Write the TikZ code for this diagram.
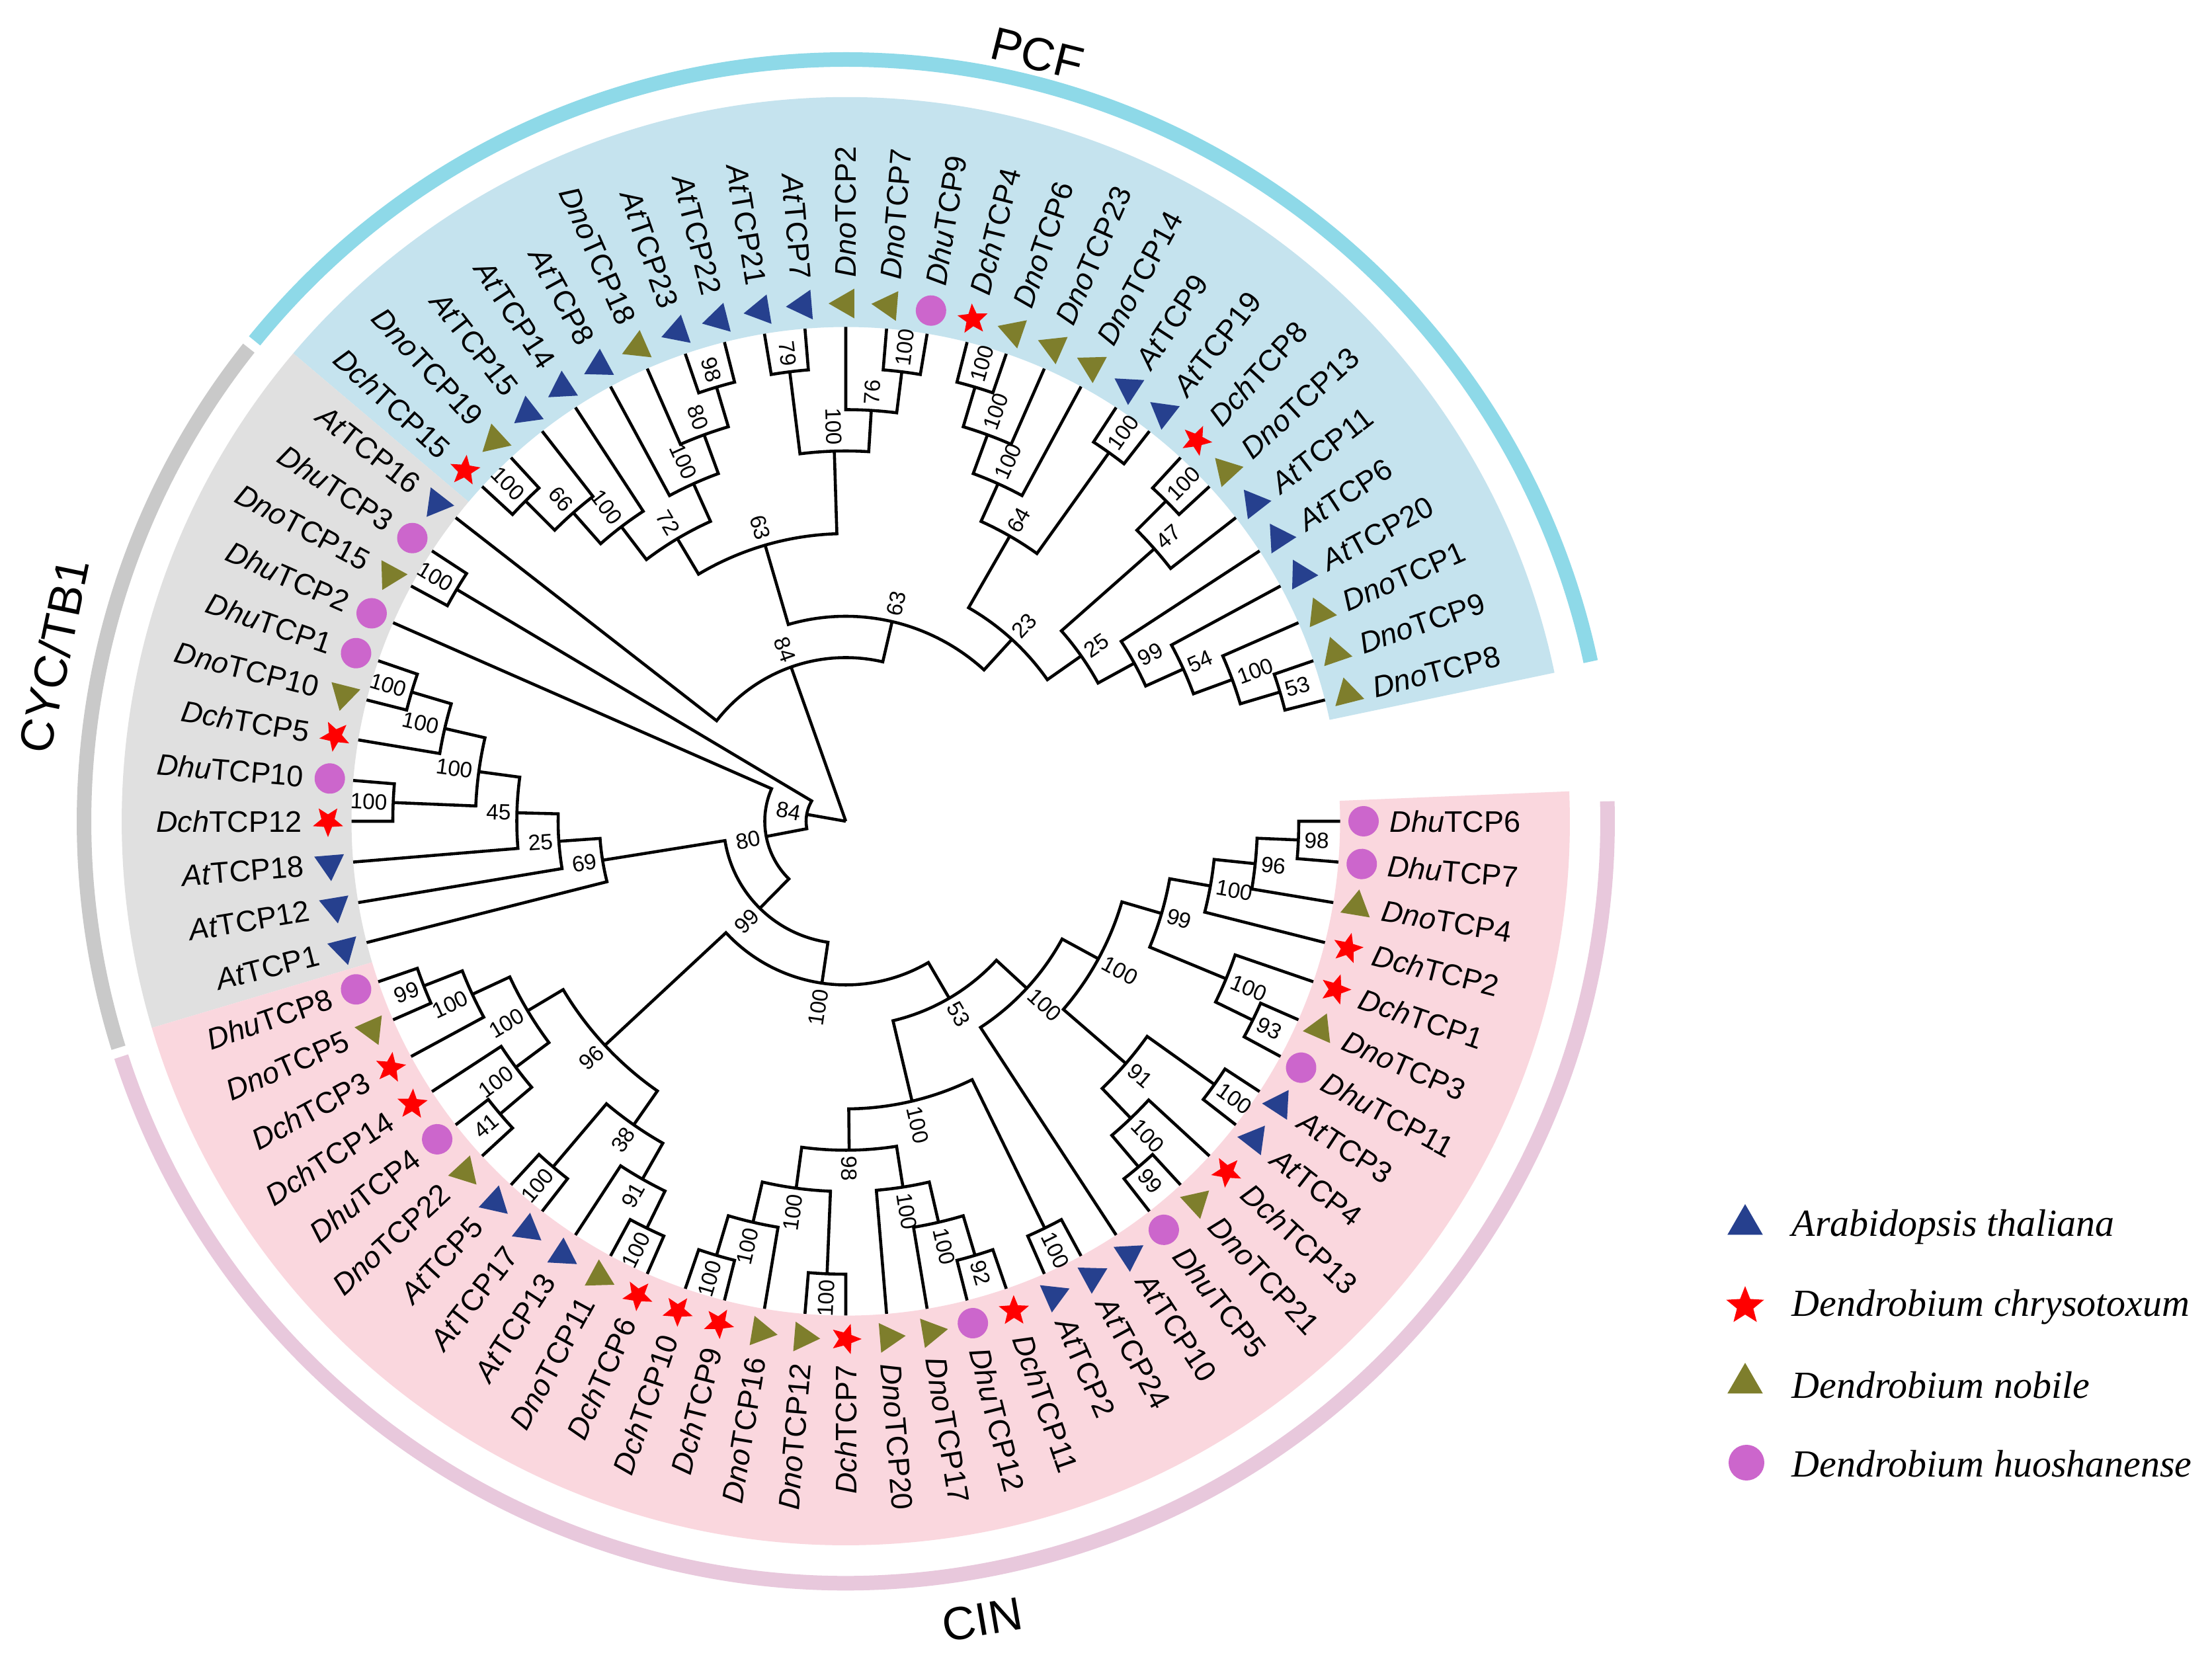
\documentclass[tikz,border=0pt]{standalone}
\usepackage{fontspec}
\setmainfont{Liberation Sans}
\newfontfamily\legendfont{Liberation Serif}
\usetikzlibrary{shapes.geometric,positioning}

\definecolor{pcfbg}{HTML}{C5E3EE}
\definecolor{cycbg}{HTML}{E0E0E0}
\definecolor{cinbg}{HTML}{FAD7DE}
\definecolor{pcfring}{HTML}{8ED9E8}
\definecolor{cycring}{HTML}{C9C9C9}
\definecolor{cinring}{HTML}{E8C8DC}
\definecolor{atblue}{HTML}{26408E}
\definecolor{dnoolive}{HTML}{7E7E2C}
\definecolor{dchred}{HTML}{FF0000}
\definecolor{dhuorchid}{HTML}{CC66CC}

\tikzset{
  branch/.style={line width=1.3pt},
  boot/.style={font=\fontsize{9.5}{10}\selectfont, inner sep=1pt},
  taxon/.style={font=\fontsize{12.8}{14}\selectfont, inner sep=0pt},
  atmark/.style={regular polygon, regular polygon sides=3, fill=atblue, minimum size=0.52cm, inner sep=0pt},
  dnomark/.style={regular polygon, regular polygon sides=3, fill=dnoolive, minimum size=0.52cm, inner sep=0pt},
  dchmark/.style={star, star points=5, star point ratio=2.3, fill=dchred, minimum size=0.48cm, inner sep=0pt},
  dhumark/.style={circle, fill=dhuorchid, minimum size=0.46cm, inner sep=0pt},
  grouplabel/.style={font=\fontsize{20}{24}\selectfont},
  legtext/.style={font=\legendfont\itshape\fontsize{16.5}{20}\selectfont, anchor=west, inner sep=0pt}
}

% clade: child1 index, child1 depth, child2 index, child2 depth, depth, support
\newcommand\clade[6]{%
  \pgfmathsetmacro\kA{-4.736842*#1}%
  \pgfmathsetmacro\kB{-4.736842*#3}%
  \pgfmathsetmacro\kR{7.475-0.625*#5}%
  \pgfmathsetmacro\kP{7.475-0.625*#2}%
  \pgfmathsetmacro\kQ{7.475-0.625*#4}%
  \draw[branch] (\kA:\kP) -- (\kA:\kR) arc[start angle=\kA, end angle=\kB, radius=\kR] -- (\kB:\kQ);%
  \pgfmathsetmacro\kM{(\kA+\kB)/2}%
  \pgfmathsetmacro\kN{\kM<-270 ? \kM+360 : \kM}%
  \pgfmathsetmacro\kL{\kR+0.05}%
  \ifdim\kN pt<-90pt
    \pgfmathsetmacro\kO{\kN+180}%
    \node[boot, anchor=east, rotate=\kO] at (\kM:\kL) {#6};%
  \else
    \node[boot, anchor=west, rotate=\kN] at (\kM:\kL) {#6};%
  \fi}

% leaf: index, marker style, prefix, number
\newcommand\leaf[4]{%
  \pgfmathsetmacro\lA{-4.736842*#1}%
  \pgfmathsetmacro\lB{\lA<-270 ? \lA+360 : \lA}%
  \node[#2, rotate=\lA] (m#1) at (\lA:7.83) {};%
  \ifdim\lB pt<-90pt
    \pgfmathsetmacro\lR{\lB+180}%
    \node[taxon, anchor=east, rotate=\lR] (t#1) at (\lA:8.22) {\textit{#3}TCP#4};%
  \else
    \node[taxon, anchor=west, rotate=\lB] (t#1) at (\lA:8.22) {\textit{#3}TCP#4};%
  \fi}

\begin{document}
\begin{tikzpicture}[x=1cm, y=1cm]
  \useasboundingbox (-12.79,-12.76) rectangle (20.66,12.42);
  \fill[white] (-12.79,-12.76) rectangle (20.66,12.42);

  % subfamily shading
  \fill[pcfbg] (139.74:7.475) arc[start angle=139.74, end angle=11.84, radius=7.475]
    -- (11.84:10.95) arc[start angle=11.84, end angle=139.74, radius=10.95] -- cycle;
  \fill[cycbg] (196.58:7.475) arc[start angle=196.58, end angle=139.74, radius=7.475]
    -- (139.74:10.95) arc[start angle=139.74, end angle=196.58, radius=10.95] -- cycle;
  \fill[cinbg] (-163.42:7.475) arc[start angle=-163.42, end angle=2.37, radius=7.475]
    -- (2.37:10.95) arc[start angle=2.37, end angle=-163.42, radius=10.95] -- cycle;

  % subfamily rings
  \draw[pcfring, line width=0.22cm] (140.9:11.52) arc[start angle=140.9, end angle=12.1, radius=11.52];
  \draw[cycring, line width=0.22cm] (197.3:11.52) arc[start angle=197.3, end angle=141.6, radius=11.52];
  \draw[cinring, line width=0.22cm] (-162.0:11.52) arc[start angle=-162.0, end angle=1.5, radius=11.52];

  % PCF
  \clade{47}{0}{48}{0}{1}{100}
  \clade{47.5}{1}{49}{0}{2}{66}
  \clade{48.25}{2}{50}{0}{3}{100}
  \clade{53}{0}{54}{0}{1}{98}
  \clade{52}{0}{53.5}{1}{2}{80}
  \clade{51}{0}{52.75}{2}{3}{100}
  \clade{49.125}{3}{51.875}{3}{4}{72}
  \clade{55}{0}{56}{0}{1}{79}
  \clade{58}{0}{59}{0}{1}{100}
  \clade{57}{0}{58.5}{1}{2}{76}
  \clade{55.5}{1}{57.75}{2}{3}{100}
  \clade{50.5}{4}{56.625}{3}{5}{63}
  \clade{60}{0}{61}{0}{1}{100}
  \clade{60.5}{1}{62}{0}{2}{100}
  \clade{61.25}{2}{63}{0}{3}{100}
  \clade{64}{0}{65}{0}{1}{100}
  \clade{62.125}{3}{64.5}{1}{4}{64}
  \clade{66}{0}{67}{0}{1}{100}
  \clade{66.5}{1}{68}{0}{2}{47}
  \clade{72}{0}{73}{0}{1}{53}
  \clade{71}{0}{72.5}{1}{2}{100}
  \clade{70}{0}{71.75}{2}{3}{54}
  \clade{69}{0}{70.875}{3}{4}{99}
  \clade{67.25}{2}{69.9375}{4}{5}{25}
  \clade{63.3125}{4}{68.59375}{5}{6}{23}
  \clade{53.5625}{5}{65.953125}{6}{7}{63}
  \clade{46}{0}{59.7578125}{7}{8}{84}

  % CYC/TB1
  \clade{44}{0}{45}{0}{1}{100}
  \clade{41}{0}{42}{0}{1}{100}
  \clade{40}{0}{41.5}{1}{2}{100}
  \clade{38}{0}{39}{0}{1}{100}
  \clade{38.5}{1}{40.75}{2}{3}{100}
  \clade{37}{0}{39.625}{3}{4}{45}
  \clade{36}{0}{38.3125}{4}{5}{25}
  \clade{35}{0}{37.15625}{5}{6}{69}

  % CIN
  \clade{33}{0}{34}{0}{1}{99}
  \clade{32}{0}{33.5}{1}{2}{100}
  \clade{29}{0}{30}{0}{1}{41}
  \clade{29.5}{1}{31}{0}{2}{100}
  \clade{30.25}{2}{32.75}{2}{3}{100}
  \clade{27}{0}{28}{0}{1}{100}
  \clade{24}{0}{25}{0}{1}{100}
  \clade{24.5}{1}{26}{0}{2}{91}
  \clade{25.25}{2}{27.5}{1}{3}{38}
  \clade{26.375}{3}{31.5}{3}{4}{96}
  \clade{22}{0}{23}{0}{1}{100}
  \clade{21}{0}{22.5}{1}{2}{100}
  \clade{19}{0}{20}{0}{1}{100}
  \clade{19.5}{1}{21.75}{2}{3}{100}
  \clade{15}{0}{16}{0}{1}{92}
  \clade{15.5}{1}{17}{0}{2}{100}
  \clade{16.25}{2}{18}{0}{3}{100}
  \clade{17.125}{3}{20.625}{3}{4}{98}
  \clade{13}{0}{14}{0}{1}{100}
  \clade{13.5}{1}{18.875}{4}{5}{100}
  \clade{0}{0}{1}{0}{1}{98}
  \clade{0.5}{1}{2}{0}{2}{96}
  \clade{1.25}{2}{3}{0}{3}{100}
  \clade{5}{0}{6}{0}{1}{93}
  \clade{4}{0}{5.5}{1}{2}{100}
  \clade{2.125}{3}{4.75}{2}{4}{99}
  \clade{7}{0}{8}{0}{1}{100}
  \clade{10}{0}{11}{0}{1}{99}
  \clade{9}{0}{10.5}{1}{2}{100}
  \clade{7.5}{1}{9.75}{2}{3}{91}
  \clade{3.4375}{4}{8.625}{3}{5}{100}
  \clade{6.03125}{5}{12}{0}{6}{100}
  \clade{9.015625}{6}{16.1875}{5}{7}{53}
  \clade{12.6015625}{7}{28.9375}{4}{8}{100}

  % deep nodes and root
  \clade{20.76953125}{8}{36.078125}{6}{9}{99}
  \clade{28.423828125}{9}{43}{0}{10}{80}
  \clade{35.7119140625}{10}{44.5}{1}{11}{84}
  \draw[branch] (0,0) -- ({-4.736842*52.87890625}:2.475);
  \draw[branch] (0,0) -- ({-4.736842*40.10595703125}:0.6);

  % leaves
  \foreach \i/\sp/\pre/\num in {0/dhumark/Dhu/6, 1/dhumark/Dhu/7, 2/dnomark/Dno/4,
      3/dchmark/Dch/2, 4/dchmark/Dch/1, 5/dnomark/Dno/3, 6/dhumark/Dhu/11, 7/atmark/At/3,
      8/atmark/At/4, 9/dchmark/Dch/13, 10/dnomark/Dno/21, 11/dhumark/Dhu/5, 12/atmark/At/10,
      13/atmark/At/24, 14/atmark/At/2, 15/dchmark/Dch/11, 16/dhumark/Dhu/12, 17/dnomark/Dno/17,
      18/dnomark/Dno/20, 19/dchmark/Dch/7, 20/dnomark/Dno/12, 21/dnomark/Dno/16, 22/dchmark/Dch/9,
      23/dchmark/Dch/10, 24/dchmark/Dch/6, 25/dnomark/Dno/11, 26/atmark/At/13, 27/atmark/At/17,
      28/atmark/At/5, 29/dnomark/Dno/22, 30/dhumark/Dhu/4, 31/dchmark/Dch/14, 32/dchmark/Dch/3,
      33/dnomark/Dno/5, 34/dhumark/Dhu/8, 35/atmark/At/1, 36/atmark/At/12, 37/atmark/At/18,
      38/dchmark/Dch/12, 39/dhumark/Dhu/10, 40/dchmark/Dch/5, 41/dnomark/Dno/10, 42/dhumark/Dhu/1,
      43/dhumark/Dhu/2, 44/dnomark/Dno/15, 45/dhumark/Dhu/3, 46/atmark/At/16, 47/dchmark/Dch/15,
      48/dnomark/Dno/19, 49/atmark/At/15, 50/atmark/At/14, 51/atmark/At/8, 52/dnomark/Dno/18,
      53/atmark/At/23, 54/atmark/At/22, 55/atmark/At/21, 56/atmark/At/7, 57/dnomark/Dno/2,
      58/dnomark/Dno/7, 59/dhumark/Dhu/9, 60/dchmark/Dch/4, 61/dnomark/Dno/6, 62/dnomark/Dno/23,
      63/dnomark/Dno/14, 64/atmark/At/9, 65/atmark/At/19, 66/dchmark/Dch/8, 67/dnomark/Dno/13,
      68/atmark/At/11, 69/atmark/At/6, 70/atmark/At/20, 71/dnomark/Dno/1, 72/dnomark/Dno/9,
      73/dnomark/Dno/8}
    {\leaf{\i}{\sp}{\pre}{\num}}

  % subfamily names
  \node[grouplabel, rotate=-14] (pcf) at (76:11.96) {PCF};
  \node[grouplabel, rotate=78.2] (cyc) at (168.2:12.24) {CYC/TB1};
  \node[grouplabel, rotate=9.7] (cin) at (-80.3:12.25) {CIN};

  % legend
  \node[atmark, minimum size=0.62cm] (lgat) at (13.60,-6.10) {};
  \node[legtext] (lgatt) at (14.30,-6.14) {Arabidopsis thaliana};
  \node[dchmark, minimum size=0.60cm] (lgdch) at (13.60,-7.33) {};
  \node[legtext] (lgdcht) at (14.30,-7.35) {Dendrobium chrysotoxum};
  \node[dnomark, minimum size=0.62cm] (lgdno) at (13.60,-8.50) {};
  \node[legtext] (lgdnot) at (14.30,-8.53) {Dendrobium nobile};
  \node[dhumark, minimum size=0.54cm] (lgdhu) at (13.62,-9.70) {};
  \node[legtext] (lgdhut) at (14.30,-9.72) {Dendrobium huoshanense};
\end{tikzpicture}
\end{document}
